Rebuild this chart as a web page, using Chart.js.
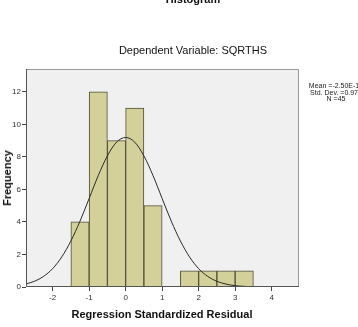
<!DOCTYPE html>
<html>
<head>
<meta charset="utf-8">
<script src="https://cdn.jsdelivr.net/npm/chart.js@4.4.1/dist/chart.umd.min.js"></script>
<style>
  html, body { margin: 0; padding: 0; background: #fff; }
  #wrap { position: relative; width: 358px; height: 327px; overflow: hidden; font-family: "Liberation Sans", Arial, sans-serif; }
  #wrap canvas { position: absolute; left: 0; top: 0; }
  .txt { position: absolute; white-space: nowrap; color: #111; }
  #title1 { left: 193px; top: -7px; transform: translateX(-50%); font-size: 11px; font-weight: bold; }
  #title2 { left: 193px; top: 44px; transform: translateX(-50%); font-size: 11px; }
  #stats { left: 336px; top: 83px; transform: translateX(-50%); font-size: 7px; line-height: 6.5px; text-align: center; color: #222; }
  #xtitle { left: 162px; top: 308px; transform: translateX(-50%); font-size: 11px; font-weight: bold; }
  #ytitle { left: 7px; top: 178px; transform: translate(-50%, -50%) rotate(-90deg); font-size: 11px; font-weight: bold; }
</style>
</head>
<body>
<div id="wrap">
  <canvas id="chart" width="358" height="327"></canvas>
  <div class="txt" id="title1">Histogram</div>
  <div class="txt" id="title2">Dependent Variable: SQRTHS</div>
  <div class="txt" id="stats">Mean =-2.50E-16<br>Std. Dev. =0.977<br>N =45</div>
  <div class="txt" id="xtitle">Regression Standardized Residual</div>
  <div class="txt" id="ytitle">Frequency</div>
</div>
<script>
// ─── Data ───
const binCenters = [-1.25, -0.75, -0.25, 0.25, 0.75, 1.75, 2.25, 2.75, 3.25];
const binCounts  = [4, 12, 9, 11, 5, 1, 1, 1, 1];

const curveX = [-2.73, -2.5, -2.25, -2, -1.75, -1.5, -1.25, -1, -0.75, -0.5, -0.25, 0,
                0.25, 0.5, 0.75, 1, 1.25, 1.5, 1.75, 2, 2.25, 2.5, 2.75, 3, 3.25, 3.5];
const curveY = [0.19, 0.35, 0.65, 1.13, 1.85, 2.83, 4.05, 5.44, 6.85, 8.06, 8.9, 9.19,
                8.9, 8.06, 6.85, 5.44, 4.05, 2.83, 1.85, 1.13, 0.65, 0.35, 0.18, 0.08, 0.04, 0.015];

const xTicks = [-2, -1, 0, 1, 2, 3, 4];
const yTicks = [0, 2, 4, 6, 8, 10, 12];

// ─── Plot background + frame ───
const framePlugin = {
  id: 'frame',
  beforeDraw(chart) {
    const { ctx, chartArea: a } = chart;
    ctx.save();
    ctx.fillStyle = '#f0f0f0';
    ctx.fillRect(a.left, a.top, a.right - a.left, a.bottom - a.top);
    ctx.restore();
  },
  afterDraw(chart) {
    const { ctx, chartArea: a } = chart;
    ctx.save();
    ctx.lineWidth = 1;
    ctx.strokeStyle = '#9a9a9a';
    ctx.beginPath();
    ctx.moveTo(a.left, a.top + 0.5);
    ctx.lineTo(a.right - 0.5, a.top + 0.5);
    ctx.lineTo(a.right - 0.5, a.bottom);
    ctx.stroke();
    ctx.strokeStyle = '#555';
    ctx.beginPath();
    ctx.moveTo(a.left + 0.5, a.top);
    ctx.lineTo(a.left + 0.5, a.bottom - 0.5);
    ctx.lineTo(a.right, a.bottom - 0.5);
    ctx.stroke();
    ctx.restore();
  }
};

const tickFont = { family: '"Liberation Sans", Arial, sans-serif', size: 8 };

new Chart(document.getElementById('chart'), {
  type: 'bar',
  data: {
    datasets: [
      {
        type: 'line',
        data: curveX.map((x, i) => ({ x, y: curveY[i] })),
        borderColor: '#2a2a2a',
        borderWidth: 1,
        pointRadius: 0,
        cubicInterpolationMode: 'monotone',
        fill: false,
        order: 0
      },
      {
        type: 'bar',
        data: binCenters.map((x, i) => ({ x, y: binCounts[i] })),
        backgroundColor: '#d4d09a',
        borderColor: '#4f4f3a',
        borderWidth: 1,
        barPercentage: 1,
        categoryPercentage: 1,
        order: 1
      }
    ]
  },
  options: {
    responsive: false,
    animation: false,
    layout: { padding: { top: 69, right: 59, left: 0, bottom: 0 } },
    plugins: { legend: { display: false }, tooltip: { enabled: false } },
    scales: {
      x: {
        type: 'linear',
        min: -2.73,
        max: 4.75,
        offset: false,
        afterBuildTicks: s => { s.ticks = xTicks.map(v => ({ value: v })); },
        afterFit: s => { s.height = 40; },
        ticks: { font: tickFont, color: '#333', padding: 2, maxRotation: 0 },
        grid: { drawOnChartArea: false, drawTicks: true, tickLength: 4, color: '#444', offset: false },
        border: { display: false }
      },
      y: {
        min: 0,
        max: 13.4,
        afterBuildTicks: s => { s.ticks = yTicks.map(v => ({ value: v })); },
        afterFit: s => { s.width = 26; },
        ticks: { font: tickFont, color: '#333', padding: 1 },
        grid: { drawOnChartArea: false, drawTicks: true, tickLength: 4, color: '#444' },
        border: { display: false }
      }
    }
  },
  plugins: [framePlugin]
});
</script>
</body>
</html>
